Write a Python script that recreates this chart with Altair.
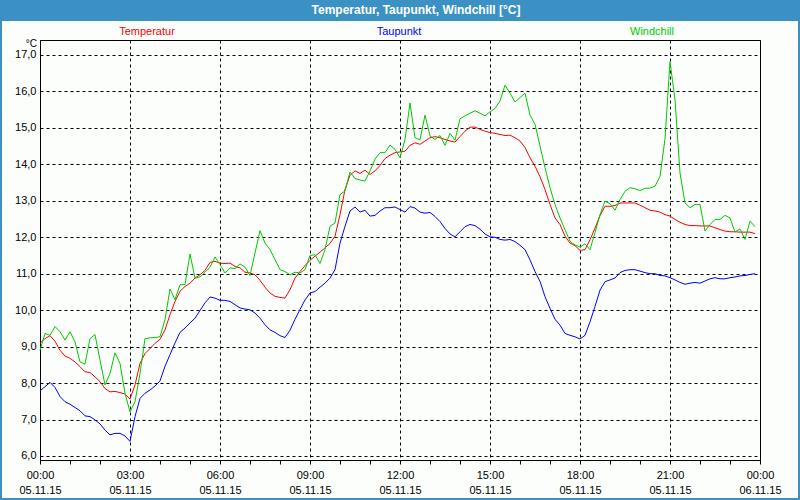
import altair as alt
import pandas as pd

# ---- data (10-minute readings, 05.11.15 00:00 .. 23:50) ----
series_names = ["Temperatur", "Taupunkt", "Windchill"]
series_colors = ["#ff0000", "#0000ff", "#00c800"]

temperatur = [
    9.09, 9.22, 9.30, 9.15, 8.90, 8.74,
    8.68, 8.58, 8.45, 8.31, 8.29, 8.17,
    8.04, 7.85, 7.76, 7.77, 7.74, 7.70,
    7.56, 7.95, 8.54, 8.81, 8.95, 9.09,
    9.20, 9.46, 9.88, 10.24, 10.52, 10.65,
    10.74, 10.88, 10.97, 11.09, 11.31, 11.34,
    11.29, 11.28, 11.29, 11.20, 11.16, 11.04,
    11.02, 10.97, 10.82, 10.63, 10.47, 10.38,
    10.35, 10.33, 10.56, 10.88, 11.06, 11.22,
    11.37, 11.48, 11.59, 11.71, 11.83, 12.03,
    12.62, 13.31, 13.70, 13.82, 13.75, 13.84,
    13.72, 13.82, 13.97, 14.16, 14.25, 14.32,
    14.34, 14.36, 14.52, 14.59, 14.55, 14.64,
    14.73, 14.76, 14.73, 14.68, 14.64, 14.61,
    14.76, 14.91, 15.02, 15.02, 14.96, 14.91,
    14.87, 14.85, 14.82, 14.79, 14.80, 14.73,
    14.64, 14.46, 14.18, 13.95, 13.66, 13.31,
    12.90, 12.53, 12.35, 12.03, 11.84, 11.77,
    11.64, 11.66, 11.93, 12.25, 12.59, 12.85,
    12.85, 12.87, 12.94, 12.94, 12.94, 12.94,
    12.88, 12.81, 12.74, 12.72, 12.69, 12.62,
    12.58, 12.49, 12.41, 12.35, 12.32, 12.32,
    12.31, 12.31, 12.31, 12.26, 12.21, 12.17,
    12.15, 12.15, 12.14, 12.14, 12.14, 12.10,
]

taupunkt = [
    7.79, 7.90, 8.02, 7.88, 7.63, 7.49,
    7.42, 7.33, 7.24, 7.10, 7.08, 6.99,
    6.88, 6.71, 6.58, 6.62, 6.62, 6.55,
    6.40, 7.08, 7.58, 7.72, 7.81, 7.92,
    8.06, 8.46, 8.78, 9.10, 9.39, 9.51,
    9.65, 9.78, 9.99, 10.20, 10.36, 10.33,
    10.27, 10.27, 10.24, 10.15, 10.06, 10.03,
    10.01, 9.92, 9.78, 9.60, 9.46, 9.39,
    9.30, 9.25, 9.45, 9.75, 10.02, 10.28,
    10.47, 10.51, 10.63, 10.74, 10.88, 11.11,
    11.84, 12.30, 12.72, 12.83, 12.69, 12.74,
    12.58, 12.60, 12.72, 12.81, 12.81, 12.83,
    12.76, 12.69, 12.84, 12.80, 12.69, 12.66,
    12.68, 12.57, 12.43, 12.24, 12.09, 12.01,
    12.15, 12.29, 12.35, 12.32, 12.22, 12.09,
    12.01, 12.00, 11.94, 11.92, 11.94, 11.88,
    11.78, 11.66, 11.38, 11.06, 10.79, 10.37,
    10.05, 9.75, 9.59, 9.36, 9.31, 9.27,
    9.21, 9.31, 9.68, 10.10, 10.55, 10.78,
    10.83, 10.88, 11.03, 11.09, 11.11, 11.11,
    11.07, 11.03, 11.00, 11.00, 10.95, 10.94,
    10.89, 10.83, 10.76, 10.71, 10.74, 10.76,
    10.74, 10.80, 10.86, 10.89, 10.86, 10.86,
    10.89, 10.91, 10.94, 10.95, 10.98, 11.00,
]

windchill = [
    8.90, 9.36, 9.31, 9.55, 9.41, 9.18,
    9.41, 9.13, 8.58, 8.52, 9.22, 9.33,
    8.63, 7.95, 8.26, 8.83, 8.54, 7.72,
    7.21, 7.49, 8.26, 9.22, 9.24, 9.25,
    9.27, 9.74, 10.58, 10.29, 10.70, 10.70,
    11.54, 10.88, 10.91, 11.04, 11.18, 11.46,
    11.25, 11.02, 11.16, 11.14, 11.27, 11.18,
    10.95, 11.57, 12.18, 11.84, 11.66, 11.39,
    11.11, 11.06, 10.97, 11.04, 11.02, 11.11,
    11.50, 11.52, 11.28, 11.66, 12.30, 12.39,
    13.17, 13.27, 13.79, 13.61, 13.57, 13.54,
    13.82, 14.14, 14.32, 14.32, 14.53, 14.41,
    14.18, 14.68, 15.68, 14.73, 14.67, 15.35,
    14.78, 14.68, 14.79, 14.52, 14.85, 14.66,
    15.25, 15.33, 15.40, 15.47, 15.40, 15.33,
    15.44, 15.53, 15.74, 16.17, 15.95, 15.71,
    15.83, 15.95, 15.35, 15.10, 14.50, 13.91,
    13.36, 12.90, 12.53, 12.21, 11.89, 11.79,
    11.73, 11.82, 11.66, 12.13, 12.62, 12.99,
    12.92, 12.74, 13.03, 13.26, 13.36, 13.33,
    13.28, 13.34, 13.35, 13.40, 13.67, 14.70,
    16.82, 15.77, 13.76, 12.94, 12.81, 12.90,
    12.90, 12.17, 12.35, 12.49, 12.49, 12.60,
    12.53, 12.14, 12.23, 11.94, 12.44, 12.29,
]

y_ticks = [6, 7, 8, 9, 10, 11, 12, 13, 14, 15, 16, 17]
title_text = "Temperatur, Taupunkt, Windchill [°C]"
unit_text = "°C"

# ---- build table ----
times = pd.date_range("2015-11-05 00:00", periods=len(temperatur), freq="10min")
rows = []
for name, vals in zip(series_names, [temperatur, taupunkt, windchill]):
    for t, v in zip(times, vals):
        rows.append({"Zeit": t.strftime("%Y-%m-%dT%H:%M:%S"), "Wert": v, "Reihe": name})
df = pd.DataFrame(rows)

hour_ticks = [alt.DateTime(year=2015, month=11, date=5, hours=h) for h in range(24)]
hour_ticks.append(alt.DateTime(year=2015, month=11, date=6, hours=0))

FONT = "Liberation Sans"
BLUE = "#3c91c4"
one = pd.DataFrame({"d": [0]})

x_axis = alt.Axis(
    values=hour_ticks,
    labelExpr="hours(datum.value) % 3 == 0 ? [timeFormat(datum.value, '%H:%M'), timeFormat(datum.value, '%d.%m.%y')] : ''",
    grid=True,
    gridColor="black",
    gridDash=[3, 3],
    gridWidth=1,
    gridOpacity={"condition": {"test": "hours(datum.value) % 3 == 0", "value": 1}, "value": 0},
    ticks=True,
    tickSize=4,
    tickColor="black",
    domain=False,
    labelFont=FONT,
    labelFontSize=11,
    labelColor="black",
    labelPadding=5,
    labelBaseline="top",
    labelLineHeight=15,
    labelOverlap=False,
    labelFlush=False,
    labelBound=False,
    title=None,
)

y_axis = alt.Axis(
    values=y_ticks,
    labelExpr="replace(format(datum.value, '.1f'), '.', ',')",
    grid=True,
    gridColor="black",
    gridDash=[3, 3],
    gridWidth=1,
    ticks=False,
    tickSize=0,
    domain=False,
    labelFont=FONT,
    labelFontSize=11,
    labelColor="black",
    labelPadding=4,
    labelOverlap=False,
    labelFlush=False,
    labelBound=False,
    title=None,
)

lines = alt.Chart(df).mark_line(strokeWidth=1, interpolate="linear").encode(
    x=alt.X("Zeit:T", axis=x_axis,
            scale=alt.Scale(domain=[alt.DateTime(year=2015, month=11, date=5, hours=0),
                                    alt.DateTime(year=2015, month=11, date=6, hours=0)])),
    y=alt.Y("Wert:Q", axis=y_axis, scale=alt.Scale(domain=[5.89, 17.41], nice=False, zero=False)),
    color=alt.Color("Reihe:N", scale=alt.Scale(domain=series_names, range=series_colors), legend=None),
)

def strip(x0, x1, y0, y1):
    return alt.Chart(one).mark_rect(color=BLUE).encode(
        x=alt.value(x0), x2=alt.value(x1), y=alt.value(y0), y2=alt.value(y1)
    )

bar_top = strip(-40, 760, -40, -19)
bar_left = strip(-40, -38, -40, 460)
bar_right = strip(758, 760, -40, 460)
bar_bottom = strip(-40, 760, 458, 460)

title = alt.Chart(one).mark_text(
    text=title_text, font=FONT, fontSize=12, fontWeight="bold", color="white",
    align="center", baseline="middle"
).encode(x=alt.value(376), y=alt.value(-30))

legend_pos = [107, 359, 612]
legend_layers = []
for name, col, px in zip(series_names, series_colors, legend_pos):
    legend_layers.append(
        alt.Chart(one).mark_text(
            text=name, font=FONT, fontSize=11, color=col, align="center", baseline="middle"
        ).encode(x=alt.value(px), y=alt.value(-8))
    )

unit = alt.Chart(one).mark_text(
    text=unit_text, font=FONT, fontSize=10, color="black", align="right", baseline="middle"
).encode(x=alt.value(-3), y=alt.value(4))

chart = alt.layer(
    bar_top, bar_left, bar_right, bar_bottom, title, *legend_layers, unit, lines
).properties(
    width=720, height=420,
    padding={"left": 40, "top": 40, "right": 40, "bottom": 40},
    autosize=alt.AutoSizeParams(type="none"),
    background="#fcfefc",
).configure_view(stroke="black", strokeWidth=1)

chart.save("out.html", embed_options={"renderer": "svg", "actions": False})
